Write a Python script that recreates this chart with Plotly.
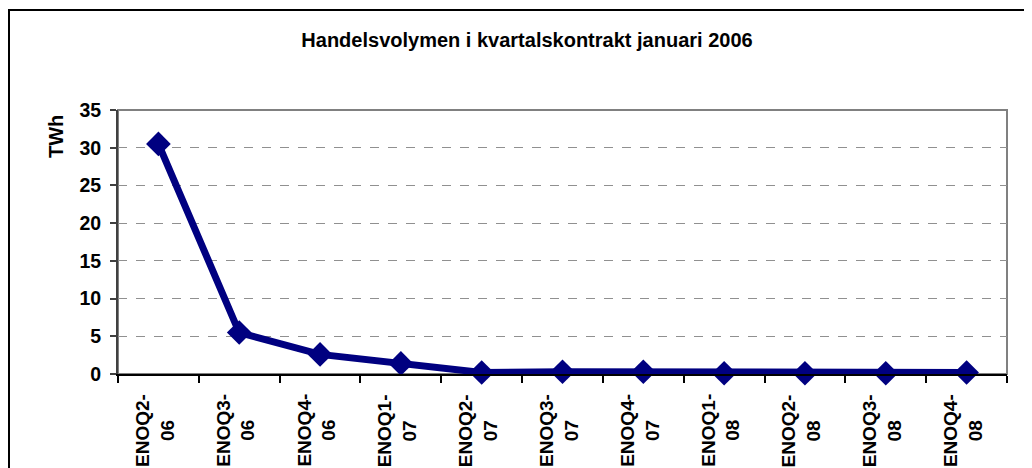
import plotly.graph_objects as go

categories = ["ENOQ2-06", "ENOQ3-06", "ENOQ4-06", "ENOQ1-07", "ENOQ2-07", "ENOQ3-07",
              "ENOQ4-07", "ENOQ1-08", "ENOQ2-08", "ENOQ3-08", "ENOQ4-08"]
volumes_twh = [30.5, 5.5, 2.6, 1.4, 0.2, 0.3, 0.3, 0.1, 0.1, 0.1, 0.2]
y_ticks = [0, 5, 10, 15, 20, 25, 30, 35]
title_text = "Handelsvolymen i kvartalskontrakt januari 2006"
y_title = "TWh"

FONT = "Liberation Sans, Arial, sans-serif"
NAVY = "#000080"

# page has an 8px body margin; figure is sized to fill the rest of the window
OFF = 8
W, H = 1032 - OFF, 468 - OFF
PLOT_L, PLOT_R, PLOT_T, PLOT_B = 118, 1007, 110, 374   # page pixel coords
L, T = PLOT_L - OFF, PLOT_T - OFF
R, B = 1032 - PLOT_R, 468 - PLOT_B
pw, ph = W - L - R, H - T - B


def px(xp):
    return (xp - PLOT_L) / pw


def py(yp):
    return (PLOT_B - yp) / ph


fig = go.Figure()
fig.add_trace(go.Scatter(
    x=list(range(len(categories))), y=volumes_twh, mode="lines+markers",
    line=dict(color=NAVY, width=7),
    marker=dict(symbol="diamond", size=19, color=NAVY),
    hoverinfo="skip", showlegend=False, cliponaxis=False,
))

annotations = []
for i, c in enumerate(categories):
    head, tail = c.split("-")
    annotations.append(dict(
        x=i, xref="x", y=py(392), yref="paper",
        text=f"{head}-<br>{tail}", textangle=-90, showarrow=False,
        xanchor="center", yanchor="top", align="center", xshift=-4,
        font=dict(family=FONT, size=19, color="black", weight="bold"),
    ))
annotations.append(dict(
    x=px(56), xref="paper", y=py(136), yref="paper",
    text=y_title, textangle=-90, showarrow=False, xanchor="center", yanchor="middle",
    font=dict(family=FONT, size=20, color="black", weight="bold"),
))

shapes = [
    dict(type="rect", xref="paper", yref="paper", x0=0, x1=1, y0=0, y1=1,
         line=dict(color="#808080", width=2), layer="below"),
    dict(type="rect", xref="paper", yref="paper",
         x0=px(9), x1=px(1045), y0=py(490), y1=py(10),
         line=dict(color="black", width=2), layer="below"),
]

fig.update_layout(
    width=W, height=H,
    margin=dict(l=L, r=R, t=T, b=B),
    paper_bgcolor="white", plot_bgcolor="white",
    title=dict(text=title_text, x=(527 - OFF) / W, xanchor="center",
               y=1 - (40 - OFF) / H, yanchor="middle", yref="container",
               font=dict(family=FONT, size=20, color="black", weight="bold")),
    xaxis=dict(
        type="linear", range=[-0.5, len(categories) - 0.5],
        tickmode="array", tickvals=[i - 0.5 for i in range(len(categories) + 1)],
        showticklabels=False, ticks="outside", ticklen=7, tickwidth=1.5, tickcolor="black",
        showline=True, linecolor="black", linewidth=2, showgrid=False, zeroline=False,
    ),
    yaxis=dict(
        range=[0, 35], tickmode="array", tickvals=y_ticks,
        ticks="outside", ticklen=6, tickwidth=1.5, tickcolor="#404040",
        showline=True, linecolor="#404040", linewidth=2,
        showgrid=True, gridcolor="#909090", griddash="dash", gridwidth=1, zeroline=False,
        tickfont=dict(family=FONT, size=19.5, color="black", weight="bold"),
        ticklabelstandoff=5,
    ),
    annotations=annotations,
    shapes=shapes,
)

fig.write_html("out.html")
